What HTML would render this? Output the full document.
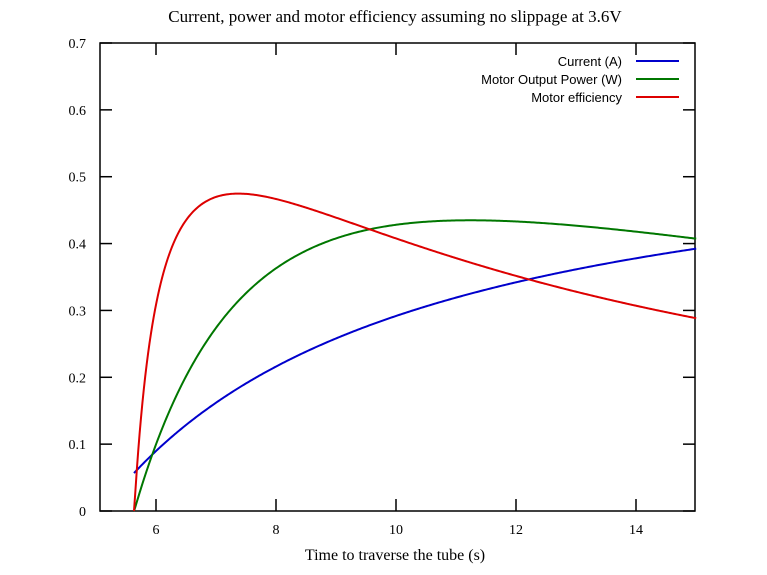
<!DOCTYPE html>
<html><head><style>
html,body{margin:0;padding:0;background:#fff;}
svg{display:block;}
.t{font-family:"Liberation Serif",serif;font-size:14px;}
.l{font-family:"Liberation Sans",sans-serif;font-size:13px;}
</style></head><body>
<svg id="s" width="767" height="575" xmlns="http://www.w3.org/2000/svg">
<text x="395" y="22" text-anchor="middle" class="t" style="font-size:17px">Current, power and motor efficiency assuming no slippage at 3.6V</text>
<rect x="100" y="43" width="595" height="468" fill="none" stroke="#000" stroke-width="1.5"/>
<g id="ticks" stroke="#000" stroke-width="1.5"></g>
<g id="labels" class="t"></g>
<text x="395" y="560" text-anchor="middle" class="t" style="font-size:16px">Time to traverse the tube (s)</text>
<text x="622" y="66" text-anchor="end" class="l">Current (A)</text>
<text x="622" y="84" text-anchor="end" class="l">Motor Output Power (W)</text>
<text x="622" y="102" text-anchor="end" class="l">Motor efficiency</text>
<line x1="636" y1="61" x2="679" y2="61" stroke="#0000cc" stroke-width="2"/>
<line x1="636" y1="79" x2="679" y2="79" stroke="#007700" stroke-width="2"/>
<line x1="636" y1="97" x2="679" y2="97" stroke="#dd0000" stroke-width="2"/>
<path id="pc" fill="none" stroke="#0000cc" stroke-width="2"/>
<path id="pp" fill="none" stroke="#007700" stroke-width="2"/>
<path id="pe" fill="none" stroke="#dd0000" stroke-width="2"/>
</svg>
<script>
var X=function(t){return 158+60*(t-6)}, Y=function(v){return 511-v*668.57};
var X0=function(t){return 156+60*(t-6)};
var ns="http://www.w3.org/2000/svg",tk=document.getElementById("ticks"),lb=document.getElementById("labels");
function ln(a,b,c,d){var e=document.createElementNS(ns,"line");e.setAttribute("x1",a);e.setAttribute("y1",b);e.setAttribute("x2",c);e.setAttribute("y2",d);tk.appendChild(e);}
function tx(x,y,s,a){var e=document.createElementNS(ns,"text");e.setAttribute("x",x);e.setAttribute("y",y);e.setAttribute("text-anchor",a);e.textContent=s;lb.appendChild(e);}
for(var i=0;i<=7;i++){var y=Y(i/10);ln(100,y,112,y);ln(683,y,695,y);tx(86,y+5,i==0?"0":(i/10).toFixed(1),"end");}
for(var t=6;t<=14;t+=2){var x=X0(t);ln(x,511,x,499);ln(x,43,x,55);tx(x,534,""+t,"middle");}
var a=0.593,b=3.003,i0=0.057,c=18.18,pc="",pp="",pe="";
for(var k=0;k<=400;k++){var t=5.6+k*(14.97-5.6)/400;var I=a-b/t;var P=Math.max(0,c/t*(I-i0));var E=P/(3.6*I);
var cmd=k?"L":"M";pc+=cmd+X(t).toFixed(2)+","+Y(I).toFixed(2);pp+=cmd+X(t).toFixed(2)+","+Y(P).toFixed(2);pe+=cmd+X(t).toFixed(2)+","+Y(E).toFixed(2);}
document.getElementById("pc").setAttribute("d",pc);document.getElementById("pp").setAttribute("d",pp);document.getElementById("pe").setAttribute("d",pe);
</script>
</body></html>
